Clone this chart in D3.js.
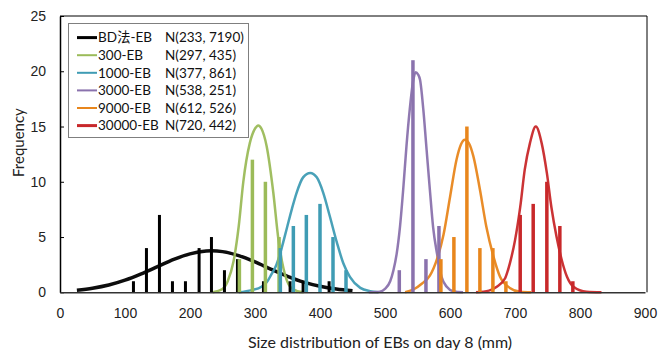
<!DOCTYPE html>
<html>
<head>
<meta charset="utf-8">
<script src="https://cdn.jsdelivr.net/npm/d3@7"></script>
<style>
  body { margin: 0; background: #fff; }
  svg { display: block; font-family: Lato, "Noto Sans CJK SC", sans-serif; }
</style>
</head>
<body>
<div id="chart"></div>
<script>
// series labels, fits and colours
const seriesNames = ["BD法-EB", "300-EB", "1000-EB", "3000-EB", "9000-EB", "30000-EB"];
const seriesFits = ["N(233, 7190)", "N(297, 435)", "N(377, 861)", "N(538, 251)", "N(612, 526)", "N(720, 442)"];
const seriesColors = ["#000000", "#9bbb59", "#3f9cb4", "#8a72ad", "#e8861c", "#c8282a"];

// histogram bars (size, frequency)
const bdBarX = [113, 133, 153, 173, 193, 214, 233, 253, 273, 313, 354, 374, 414];
const bdBarY = [1, 4, 7, 1, 1, 4, 5, 2, 3, 1, 1, 1, 1];
const eb300BarX = [276, 296, 316, 337];
const eb300BarY = [3, 12, 10, 5];
const eb1000BarX = [339, 359, 379, 400, 420, 440];
const eb1000BarY = [4, 6, 7, 8, 5, 2];
const eb3000BarX = [522, 543, 563, 583];
const eb3000BarY = [2, 21, 3, 6];
const eb9000BarX = [586, 606, 626, 646, 666, 686];
const eb9000BarY = [3, 5, 15, 4, 4, 1];
const eb30000BarX = [708, 728, 749, 769, 789];
const eb30000BarY = [7, 8, 10, 6, 1];

// fitted curves
const bdCurveX = [26, 50, 75, 100, 125, 150, 175, 200, 225, 233, 250, 275, 300, 325, 350, 375, 400, 425, 450];
const bdCurveY = [0.19, 0.37, 0.66, 1.10, 1.67, 2.32, 2.97, 3.48, 3.73, 3.75, 3.68, 3.32, 2.75, 2.08, 1.45, 0.92, 0.54, 0.29, 0.14];
const eb300CurveX = [235, 250, 258, 267, 275, 282, 292, 300, 305, 310, 318, 328, 336, 344, 354, 365, 375];
const eb300CurveY = [0, 0.3, 1.0, 2.8, 6.0, 10.0, 13.5, 14.8, 15.1, 14.8, 13.2, 9.1, 4.8, 2.1, 0.5, 0.1, 0];
const eb1000CurveX = [275, 295, 310, 318, 325, 333, 341, 349, 357, 364, 374, 385, 395, 405, 415, 426, 436, 446, 462, 477, 490];
const eb1000CurveY = [0, 0.2, 0.5, 0.9, 1.6, 2.5, 4.0, 5.8, 7.6, 9.0, 10.4, 10.8, 10.4, 9.0, 6.9, 4.5, 2.6, 1.4, 0.4, 0.1, 0];
const eb3000CurveX = [475, 492, 500, 508, 513, 518, 523, 528, 533, 538, 543, 547, 551, 554, 559, 564, 569, 574, 580, 587, 595, 605, 620];
const eb3000CurveY = [0, 0.05, 0.3, 1.0, 2.0, 3.5, 5.9, 9.3, 13.2, 16.5, 19.0, 19.9, 19.7, 19.2, 16.5, 12.9, 9.3, 5.9, 3.5, 1.4, 0.5, 0.1, 0];
const eb9000CurveX = [531, 545, 557, 569, 580, 590, 600, 610, 617, 623, 629, 636, 646, 656, 667, 677, 692, 708, 725];
const eb9000CurveY = [0, 0.3, 0.8, 1.5, 3.0, 5.2, 8.6, 12.0, 13.4, 13.8, 13.5, 12.3, 9.3, 5.9, 3.2, 1.4, 0.4, 0.05, 0];
const eb30000CurveX = [640, 660, 672, 685, 692, 700, 708, 715, 723, 732, 741, 749, 756, 764, 772, 780, 790, 810, 833];
const eb30000CurveY = [0, 0.15, 0.5, 1.3, 2.6, 4.7, 7.7, 11.1, 13.5, 15.0, 13.5, 10.8, 7.7, 5.0, 2.9, 1.4, 0.5, 0.05, 0];

const xTicks = [0, 100, 200, 300, 400, 500, 600, 700, 800, 900];
const yTicks = [0, 5, 10, 15, 20, 25];

const barsX = [bdBarX, eb300BarX, eb1000BarX, eb3000BarX, eb9000BarX, eb30000BarX];
const barsY = [bdBarY, eb300BarY, eb1000BarY, eb3000BarY, eb9000BarY, eb30000BarY];
const curvesX = [bdCurveX, eb300CurveX, eb1000CurveX, eb3000CurveX, eb9000CurveX, eb30000CurveX];
const curvesY = [bdCurveY, eb300CurveY, eb1000CurveY, eb3000CurveY, eb9000CurveY, eb30000CurveY];

const W = 672, H = 350;
const svg = d3.select("#chart").append("svg")
    .attr("width", W)
    .attr("height", H);

const x = d3.scaleLinear([0, 900], [60, 645]);
const y = d3.scaleLinear([0, 25], [292.3, 16]);

// plot frame (top and right)
svg.append("path")
    .attr("fill", "none")
    .attr("stroke", "#000")
    .attr("stroke-width", 1)
    .attr("d", `M60,16H647V292.3`);

// curves
const line = d3.line().curve(d3.curveMonotoneX);
for (let i in curvesX) {
    const cx = curvesX[i], cy = curvesY[i];
    svg.append("path")
        .datum(cx.map((v, j) => [x(v), y(cy[j])]))
        .attr("fill", "none")
        .attr("stroke", seriesColors[i])
        .attr("stroke-width", i == 0 ? 3.5 : 2.5)
        .attr("stroke-opacity", 0.95)
        .attr("d", line);
}

// bars
for (let i in barsX) {
    const bx = barsX[i], by = barsY[i];
    const w = i == 0 ? 3 : 3.5;
    svg.append("g")
        .selectAll("rect")
        .data(bx)
        .join("rect")
        .attr("x", (d) => x(d) - w / 2)
        .attr("y", (d, j) => y(by[j]))
        .attr("width", w)
        .attr("height", (d, j) => y(0) - y(by[j]))
        .attr("fill", seriesColors[i]);
}

// y axis
const yAxis = svg.append("g")
    .attr("transform", "translate(60,0)")
    .call(d3.axisLeft(y).tickValues(yTicks).tickSize(-4).tickSizeOuter(0).tickPadding(14));
yAxis.select(".domain").attr("stroke", "#000").attr("stroke-width", 1.5);
yAxis.selectAll(".tick line").attr("stroke", "#000");
yAxis.selectAll(".tick text").attr("font-size", 14).attr("fill", "#222");

// x axis
const xAxis = svg.append("g")
    .attr("transform", "translate(0,292.3)")
    .call(d3.axisBottom(x).tickValues(xTicks).tickSize(0).tickPadding(16));
xAxis.select(".domain").attr("stroke", "#333").attr("stroke-width", 1.5);
xAxis.selectAll(".tick text").attr("font-size", 14).attr("fill", "#222");

// axis titles
svg.append("text")
    .attr("x", 380)
    .attr("y", 348)
    .attr("text-anchor", "middle")
    .attr("font-size", 16)
    .attr("fill", "#222")
    .text("Size distribution of EBs on day 8  (mm)");

svg.append("text")
    .attr("transform", "translate(24,177) rotate(-90)")
    .attr("text-anchor", "start")
    .attr("font-size", 15)
    .attr("fill", "#222")
    .text("Frequency");

// legend
const legend = svg.append("g");
legend.append("rect")
    .attr("x", 68.5)
    .attr("y", 23.5)
    .attr("width", 180)
    .attr("height", 114)
    .attr("fill", "#fff")
    .attr("stroke", "#7f7f7f");

for (let i in seriesNames) {
    const cy = 37.6 + i * 17.6;
    legend.append("line")
        .attr("x1", 77).attr("x2", 97)
        .attr("y1", cy).attr("y2", cy)
        .attr("stroke", seriesColors[i])
        .attr("stroke-width", (i == 0 || i == 5) ? 3 : 2);
    legend.append("text")
        .attr("x", 98)
        .attr("y", cy)
        .attr("dy", "0.35em")
        .attr("font-size", 13.5)
        .attr("fill", "#111")
        .text(seriesNames[i]);
    legend.append("text")
        .attr("x", 165)
        .attr("y", cy)
        .attr("dy", "0.35em")
        .attr("font-size", 13.5)
        .attr("fill", "#111")
        .text(seriesFits[i]);
}
</script>
</body>
</html>
